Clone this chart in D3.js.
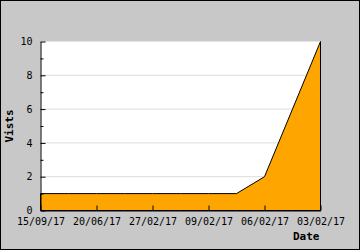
<!DOCTYPE html>
<html>
<head>
<meta charset="utf-8">
<script src="https://cdn.jsdelivr.net/npm/d3@7"></script>
<style>
  body { margin: 0; background: #fff; }
  svg { display: block; }
  .tick text { font-family: "DejaVu Sans Mono", monospace; font-size: 10px; fill: #000; }
  .title { font-family: "DejaVu Sans Mono", monospace; font-size: 11px; font-weight: bold; fill: #000; }
</style>
</head>
<body>
<div id="chart"></div>
<script>
// data, newest date on the right
var date_labels = ["15/09/17", "20/06/17", "27/02/17", "09/02/17", "06/02/17", "03/02/17"]
var visits = [1, 1, 1, 1, 1, 1, 1, 1, 2, 6, 10]
var y_major = [0, 2, 4, 6, 8, 10]
var y_minor = [1, 3, 5, 7, 9]

var width = 360, height = 250
var plot = {left: 40.5, right: 320.5, top: 41.5, bottom: 210.5}

var svg = d3.select("#chart").append("svg")
    .attr("width", width)
    .attr("height", height)

// grey frame
svg.append("rect")
    .attr("x", 0.5).attr("y", 0.5)
    .attr("width", width - 1).attr("height", height - 1)
    .style("fill", "#c8c8c8")
    .style("stroke", "#000")

var x = d3.scaleLinear()
    .domain([0, visits.length - 1])
    .range([plot.left, plot.right])

var y = d3.scaleLinear()
    .domain([0, 10])
    .range([plot.bottom, plot.top])

// white plot area
svg.append("rect")
    .attr("x", plot.left).attr("y", plot.top)
    .attr("width", plot.right - plot.left)
    .attr("height", plot.bottom - plot.top)
    .style("fill", "#fff")

// grid lines
svg.selectAll(".grid")
    .data(y_major.filter(function(d){ return d > 0 && d < 10 }))
  .enter().append("line")
    .attr("class", "grid")
    .attr("x1", plot.left).attr("x2", plot.right)
    .attr("y1", function(d){ return y(d) })
    .attr("y2", function(d){ return y(d) })
    .style("stroke", "#dcdcdc")

var area = d3.area()
    .x(function(d, i){ return x(i) })
    .y0(y(0))
    .y1(function(d){ return y(d) })

svg.append("path")
    .datum(visits)
    .attr("d", area)
    .style("fill", "#ffa500")
    .style("stroke", "#000")
    .style("stroke-width", 1)
    .style("stroke-linejoin", "miter")

// every second point carries a date label
var x_ticks = date_labels.map(function(d, i){ return i * 2 })

var x_axis = d3.axisBottom(x)
    .tickValues(x_ticks)
    .tickFormat(function(d){ return date_labels[d / 2] })
    .tickSizeInner(-5)
    .tickSizeOuter(0)
    .tickPadding(7)

svg.append("g")
    .attr("transform", "translate(0," + plot.bottom + ")")
    .call(x_axis)
    .call(function(g){ g.selectAll("line, path").style("stroke", "#000") })

var y_axis = d3.axisLeft(y)
    .tickValues(y_major)
    .tickSizeInner(-5)
    .tickSizeOuter(0)
    .tickPadding(8)

svg.append("g")
    .attr("transform", "translate(" + plot.left + ",0)")
    .call(y_axis)
    .call(function(g){ g.selectAll("line, path").style("stroke", "#000") })

// minor ticks
svg.append("g")
    .attr("transform", "translate(" + plot.left + ",0)")
    .call(d3.axisLeft(y).tickValues(y_minor).tickSizeInner(-3).tickSizeOuter(0).tickFormat(""))
    .call(function(g){ g.select(".domain").remove() })
    .call(function(g){ g.selectAll("line").style("stroke", "#000") })

svg.append("text")
    .attr("class", "title")
    .attr("x", plot.right - 1)
    .attr("y", 240)
    .attr("text-anchor", "end")
    .text("Date")

svg.append("text")
    .attr("class", "title")
    .attr("transform", "translate(13," + ((plot.top + plot.bottom) / 2) + ") rotate(-90)")
    .attr("text-anchor", "middle")
    .text("Vists")
</script>
</body>
</html>
